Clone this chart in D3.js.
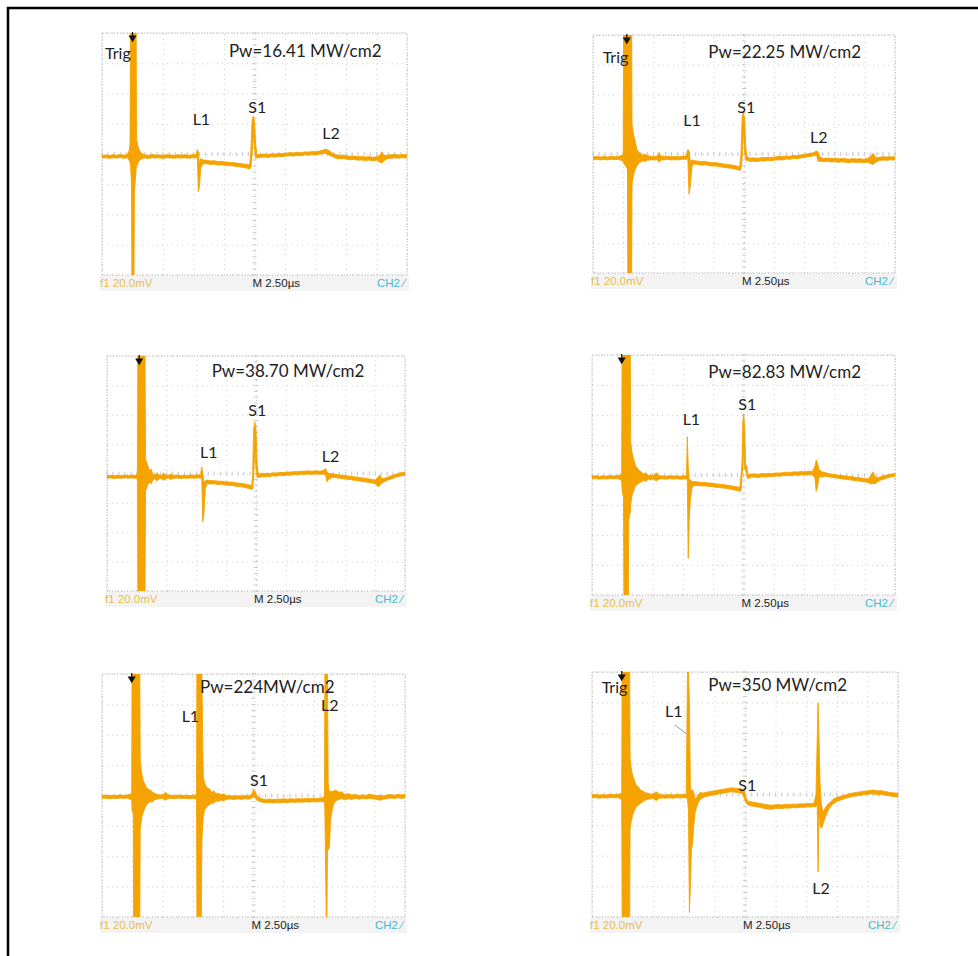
<!DOCTYPE html>
<meta charset="utf-8">
<style>
    body { margin: 0; background: #fff; }
    .grid line { stroke: #cfcfcf; stroke-dasharray: 1,4; }
    .grid path { display: none; }
    .minor { stroke: #c8c8c8; }
    .border { fill: none; stroke: #bdbdbd; stroke-dasharray: 1.5,1.5; }
    .trace { fill: #f5a300; stroke: #f5a300; stroke-width: 0.9; stroke-linejoin: round; }
    .lbl { font-family: Lato, "Open Sans", sans-serif; fill: #222; }
    .status { font-family: "Liberation Sans Narrow", "Liberation Sans", sans-serif; font-size: 11.5px; }
</style>
<body>
<script src="https://d3js.org/d3.v7.min.js"></script>
<script>

    var width = 978,
        height = 956;

    // scope settings: 10 div x 2.50 us, 8 div x 20.0 mV
    var timeDomain = [0, 25],
        voltDomain = [-80, 80];
    var timeDivs = d3.range(0, 25.01, 2.5),
        voltDivs = d3.range(-80, 80.01, 20);

    // traces: [time us, min mV, max mV]
    var trace1 = [[0,-2.6,-0.8],[0.3,-2.4,-0.6],[0.6,-2.9,-1.0],[0.9,-2.5,-0.5],[1.2,-2.7,-0.9],[1.5,-2.3,-0.4],[1.8,-2.8,-0.8],[2.1,-2.5,-0.4],
        [2.22,-4,2],[2.3,-6,6],[2.33,-6,80],[2.42,-20,80],[2.45,-80,80],[2.62,-80,80],[2.66,-25,80],[2.8,-10,80],[2.83,-8,10],[2.95,-6,5],[3.1,-4,2],[3.3,-3,0],
        [3.5,-2.6,-0.5],[3.8,-2.9,-0.9],[4.1,-2.4,-0.4],[4.4,-2.7,-0.7],[4.7,-2.5,-0.6],[5.0,-2.9,-0.9],[5.3,-2.4,-0.5],[5.6,-2.6,-0.6],[5.9,-2.8,-0.9],[6.2,-2.5,-0.5],[6.5,-2.7,-0.8],[6.8,-2.4,-0.5],[7.1,-2.8,-0.8],[7.4,-2.5,-0.5],[7.7,-2.6,-0.4],
        [7.82,-2,3],[7.9,-25,1],[7.98,-22,-6],[8.1,-9,-3],[8.3,-6.5,-4],
        [8.6,-6.4,-4.2],[8.9,-6.9,-4.6],[9.2,-6.7,-4.5],[9.5,-7.3,-5.0],[9.8,-7.1,-4.9],[10.1,-7.6,-5.3],[10.4,-7.8,-5.5],[10.7,-7.7,-5.6],[11.0,-8.3,-6.0],[11.3,-8.5,-6.3],[11.6,-8.9,-6.6],[11.9,-9.4,-7.0],[12.1,-10,-7.3],
        [12.2,-9,2],[12.3,-1,22],[12.4,14,25],[12.5,4,22],[12.6,-3,6],[12.7,-2.5,-0.5],
        [13.0,-2.2,-0.2],[13.3,-2.0,0],[13.6,-2.3,-0.3],[13.9,-1.8,0.1],[14.2,-2.0,0],[14.5,-1.6,0.4],[14.8,-1.8,0.3],[15.1,-1.3,0.6],[15.4,-1.1,0.9],[15.7,-1.4,0.7],[16.0,-0.9,1.1],[16.3,-1.2,0.8],[16.6,-0.5,1.4],[16.9,-0.8,1.2],[17.2,-0.4,1.6],[17.5,-0.6,1.5],[17.8,-0.1,2.0],[18.1,0.3,2.5],[18.3,0.5,3.2],[18.5,-0.5,2.8],[18.7,-1.0,1.8],[18.9,-1.8,0.5],
        [19.2,-2.9,-0.5],[19.5,-3.2,-1.0],[19.8,-3.0,-0.8],[20.1,-3.5,-1.3],[20.4,-3.8,-1.5],[20.7,-3.6,-1.4],[21.0,-4.1,-1.8],[21.3,-3.9,-1.7],[21.6,-4.3,-2.0],[21.9,-4.0,-1.8],[22.2,-4.5,-2.2],[22.5,-4.2,-1.9],[22.8,-5.5,-0.8],[22.95,-6,1.5],[23.1,-4.5,-1],[23.4,-3.0,-0.8],[23.7,-2.8,-0.5],[24.0,-2.5,-0.4],[24.3,-2.8,-0.7],[24.6,-2.4,-0.3],[25,-2.6,-0.6]];

    var trace2 = [[0,-3.8,-1.9],[0.3,-3.6,-1.6],[0.6,-4.0,-2.1],[0.9,-3.7,-1.7],[1.2,-3.9,-2.0],[1.5,-3.5,-1.6],[1.8,-3.8,-1.8],[2.1,-3.6,-1.7],[2.4,-4.5,-0.8],
        [2.5,-4.5,0],[2.53,-6,80],[2.85,-10,80],[2.88,-80,80],[3.2,-80,80],[3.23,-20,20],[3.36,-14,13],[3.5,-10,8],[3.64,-8,3],[3.8,-6,1],[3.95,-5.5,0.5],[4.1,-4.5,-0.8],[4.3,-5,0],[4.5,-4.2,-1.2],[4.7,-4.0,-1.5],[4.9,-3.8,-1.7],[5.1,-4.1,-1.6],[5.3,-3.7,-1.6],[5.45,-5.5,0.8],[5.6,-4.2,-1.2],[5.9,-3.9,-1.7],[6.2,-3.6,-1.5],[6.5,-4.0,-1.9],[6.8,-3.7,-1.6],[7.1,-3.9,-1.8],[7.4,-3.5,-1.5],[7.7,-3.6,-1.3],
        [7.85,-3,3],[7.95,-27,2],[8.05,-22,-5],[8.2,-8,-4],[8.4,-6.8,-4.5],
        [8.7,-7.0,-4.8],[9.0,-7.5,-5.1],[9.3,-7.2,-5.0],[9.6,-7.9,-5.6],[9.9,-8.1,-5.8],[10.2,-8.0,-5.9],[10.5,-8.6,-6.3],[10.8,-8.9,-6.7],[11.1,-9.3,-7.0],[11.4,-9.6,-7.3],[11.7,-10.1,-7.8],[12.0,-10.6,-8.2],[12.15,-11.2,-8.6],
        [12.25,-10,0],[12.35,-2,25],[12.45,16,28.5],[12.55,2,24],[12.65,-4,4],[12.75,-4.2,-1.8],
        [13.0,-5.0,-2.8],[13.3,-4.8,-2.6],[13.6,-5.1,-2.9],[13.9,-4.6,-2.5],[14.2,-4.7,-2.4],[14.5,-4.3,-2.2],[14.8,-4.5,-2.3],[15.1,-4.0,-1.9],[15.4,-3.8,-1.6],[15.7,-4.0,-1.8],[16.0,-3.4,-1.4],[16.3,-3.6,-1.5],[16.6,-3.0,-1.0],[16.9,-3.2,-1.1],[17.2,-2.7,-0.6],[17.5,-2.3,-0.3],[17.8,-1.8,0.2],[18.1,-1.5,0.5],[18.3,-1.2,1.0],[18.5,-0.8,2.0],[18.65,-5,1.2],
        [18.8,-4.8,-2.2],[19.1,-5.2,-3.0],[19.4,-4.9,-2.7],[19.7,-5.4,-3.1],[20.0,-5.1,-2.9],[20.3,-5.6,-3.3],[20.6,-5.2,-3.0],[20.9,-5.5,-3.2],[21.2,-5.8,-3.5],[21.5,-5.3,-3.1],[21.8,-5.7,-3.4],[22.1,-5.5,-3.2],[22.4,-5.9,-3.6],[22.7,-5.4,-3.1],[23.0,-6.5,-1.5],[23.2,-7,0.5],[23.4,-5.5,-2.5],[23.7,-4.4,-2.2],[24.0,-4.0,-1.9],[24.3,-4.3,-2.0],[24.6,-3.8,-1.8],[25,-4.1,-2.0]];

    var trace3 = [[0,-3.2,-1.4],[0.3,-3.0,-1.2],[0.6,-3.4,-1.5],[0.9,-3.1,-1.2],[1.2,-3.3,-1.5],[1.5,-2.9,-1.1],[1.8,-3.2,-1.4],[2.1,-3.0,-1.1],[2.4,-3.3,-1.3],[2.55,-4,0],
        [2.59,-80,80],[3.19,-80,80],[3.23,-12,10],[3.4,-8,6],[3.55,-6,2],[3.7,-7,3],[3.85,-4.5,-0.5],[4.0,-3.5,-1.2],[4.2,-5,0.5],[4.35,-3.8,-1.0],[4.55,-3.4,-1.3],[4.75,-4.6,0.3],[4.95,-3.5,-1.2],[5.15,-3.1,-1.3],[5.35,-4.0,-0.3],[5.55,-3.3,-1.2],[5.85,-3.0,-1.1],[6.15,-3.4,-1.4],[6.45,-3.1,-1.2],[6.75,-3.3,-1.3],[7.05,-3.0,-1.0],[7.35,-3.2,-1.2],[7.65,-3.0,-0.9],[7.85,-3.2,-0.8],
        [7.95,-3,4.5],[8.03,-33,1],[8.12,-28,-6],[8.25,-10,-5],[8.4,-7,-4.5],
        [8.7,-7.1,-4.8],[9.0,-7.0,-4.9],[9.3,-7.5,-5.2],[9.6,-7.4,-5.3],[9.9,-7.9,-5.6],[10.2,-8.1,-5.8],[10.5,-8.0,-5.9],[10.8,-8.6,-6.3],[11.1,-8.9,-6.6],[11.4,-9.2,-6.9],[11.7,-9.8,-7.4],[12.0,-10.3,-7.9],[12.15,-11,-8.2],
        [12.22,-10,0],[12.3,-3,30],[12.4,18,35],[12.5,3,30],[12.6,-3,5],[12.7,-2.5,-0.2],
        [13.0,-2.3,-0.2],[13.3,-2.0,0.1],[13.6,-2.2,-0.1],[13.9,-1.6,0.4],[14.2,-1.8,0.3],[14.5,-1.3,0.7],[14.8,-1.5,0.6],[15.1,-1.0,1.0],[15.4,-1.2,0.9],[15.7,-0.7,1.3],[16.0,-0.9,1.2],[16.3,-0.4,1.6],[16.6,-0.6,1.5],[16.9,-0.3,1.8],[17.2,-0.6,1.5],[17.5,-0.2,1.9],[17.8,-0.5,1.6],[18.1,-0.3,1.9],[18.35,-1,3.4],[18.45,-5.7,1.0],[18.6,-4,0],
        [18.9,-2.5,-0.2],[19.2,-2.8,-0.6],[19.5,-3.2,-1.0],[19.8,-3.5,-1.2],[20.1,-3.9,-1.6],[20.4,-4.1,-1.8],[20.7,-4.6,-2.2],[21.0,-4.8,-2.5],[21.3,-5.3,-2.9],[21.6,-5.6,-3.2],[21.9,-6.0,-3.6],[22.2,-6.4,-4.0],[22.5,-6.9,-4.4],[22.75,-9,-2.5],[22.9,-8,-1],[23.05,-6.5,-3.5],[23.3,-5.5,-3.2],[23.6,-4.4,-2.3],[23.9,-3.5,-1.4],[24.2,-2.6,-0.6],[24.5,-1.9,0.2],[24.8,-1.4,0.7],[25,-1.1,0.9]];

    var trace4 = [[0,-2.6,-0.7],[0.3,-2.4,-0.5],[0.6,-2.8,-0.9],[0.9,-2.5,-0.6],[1.2,-2.7,-0.8],[1.5,-2.3,-0.4],[1.8,-2.6,-0.7],[2.1,-2.4,-0.5],[2.35,-3.2,0.2],
        [2.45,-4,1],[2.48,-10,80],[2.6,-15,80],[2.63,-80,80],[3.0,-80,80],[3.03,-30,80],[3.16,-25,80],[3.19,-20,22],[3.3,-14,15],[3.45,-10,10],[3.6,-7,6],[3.8,-6,4],[3.95,-5,2.5],[4.1,-4.5,2],[4.25,-3.5,0.5],[4.45,-4.2,1.5],[4.65,-2.8,-0.5],[4.85,-3.2,0.2],[5.05,-2.7,-0.6],[5.3,-4,1.5],[5.5,-2.8,-0.5],[5.8,-2.5,-0.6],[6.1,-2.8,-0.8],[6.4,-2.4,-0.5],[6.7,-2.7,-0.7],[7.0,-2.5,-0.6],[7.3,-2.8,-0.8],[7.6,-2.5,-0.5],[7.8,-2.7,-0.5],
        [7.86,-3,25.5],[7.94,-55.5,5],[8.02,-30,-4],[8.12,-16,-3],[8.24,-9,-4.5],[8.4,-7,-4.3],
        [8.7,-7.0,-4.6],[9.0,-7.3,-5.0],[9.3,-7.1,-4.9],[9.6,-7.7,-5.4],[9.9,-7.6,-5.4],[10.2,-8.2,-5.9],[10.5,-8.3,-6.1],[10.8,-8.7,-6.4],[11.1,-9.0,-6.7],[11.4,-9.4,-7.1],[11.7,-9.9,-7.5],[12.0,-10.4,-8.0],[12.2,-11,-8.4],
        [12.3,-10,0],[12.38,0,8],[12.45,4,35],[12.52,20,40.7],[12.6,4,30],[12.68,3,7],[12.78,-1,6],[12.86,-2.5,0],
        [13.1,-1.5,0.6],[13.4,-1.3,0.7],[13.7,-1.6,0.5],[14.0,-1.2,0.9],[14.3,-1.4,0.8],[14.6,-0.9,1.1],[14.9,-1.1,1.0],[15.2,-0.6,1.4],[15.5,-0.8,1.3],[15.8,-0.4,1.6],[16.1,-0.2,1.9],[16.4,-0.5,1.7],[16.7,0.0,2.1],[17.0,-0.2,2.0],[17.3,0.2,2.3],[17.6,0.0,2.2],[17.9,0.3,2.5],[18.2,0.1,2.4],
        [18.4,-2,6],[18.5,-11,10],[18.6,-8,8],[18.72,-2,4],[18.85,-1,3],[19.0,-1.5,2],[19.2,-0.8,1.8],[19.5,-1.2,1.0],[19.8,-1.6,0.5],[20.1,-1.9,0.2],[20.4,-2.3,-0.1],[20.7,-2.6,-0.4],[21.0,-3.0,-0.8],[21.3,-3.2,-1.0],[21.6,-3.6,-1.4],[21.9,-3.9,-1.7],[22.2,-4.3,-2.0],[22.5,-4.6,-2.3],[22.8,-5.0,-2.6],[23.05,-6,0],[23.2,-5.5,2.2],[23.35,-6,-1],[23.55,-4.5,-1.8],[23.8,-3.5,-1.2],[24.1,-2.6,-0.4],[24.4,-1.9,0.1],[24.7,-1.2,0.6],[25,-1.0,0.9]];

    var trace5 = [[0,-1.9,0.1],[0.3,-1.7,0.3],[0.6,-2.1,-0.1],[0.9,-1.8,0.2],[1.2,-2.0,0.0],[1.5,-1.6,0.4],[1.8,-1.9,0.1],[2.1,-1.7,0.3],[2.35,-2.5,1.0],
        [2.45,-3,1.5],[2.48,-10,80],[2.58,-12,80],[2.61,-80,80],[3.12,-80,80],[3.15,-22,24],[3.27,-15,15],[3.4,-11,10],[3.55,-8,7],[3.7,-6,5],[3.85,-5,4],[4.0,-4,3.5],[4.15,-4.5,2.5],[4.3,-3,1.5],[4.45,-2.5,1],[4.65,-2.2,0.5],[4.85,-2,0.4],[5.05,-2.2,0.6],[5.25,-3.2,2.2],[5.45,-2.0,0.3],[5.7,-1.8,0.2],[6.0,-2.1,0.0],[6.3,-1.7,0.3],[6.6,-2.0,0.1],[6.9,-1.8,0.2],[7.2,-2.1,-0.1],[7.5,-1.8,0.2],[7.7,-2.0,0.3],
        [7.8,-3,1],[7.83,-80,80],[8.2,-80,80],[8.24,-30,80],[8.3,-20,39],[8.36,-14,12],[8.45,-10,9],[8.58,-8,6],[8.72,-7,5],[8.9,-6,4],[9.05,-5,2],[9.25,-5,3],[9.4,-3.5,1],[9.6,-4,1.5],[9.8,-3,0.5],[10.0,-3.5,1],[10.3,-2.5,0],[10.6,-2.3,-0.2],[10.9,-2.6,-0.3],[11.2,-2.2,-0.1],[11.5,-2.5,-0.4],[11.8,-2.1,0.0],[12.1,-2.4,-0.2],[12.35,-1.8,0.8],
        [12.5,-1,3.5],[12.62,-1.2,3.0],[12.75,-3,0.5],[12.9,-3.6,-1.2],[13.2,-4.4,-2.2],[13.5,-4.8,-2.6],[13.8,-4.5,-2.3],[14.1,-4.9,-2.7],[14.4,-4.6,-2.4],[14.7,-4.8,-2.5],[15.0,-4.4,-2.2],[15.3,-4.7,-2.5],[15.6,-4.3,-2.1],[15.9,-4.6,-2.4],[16.2,-4.2,-2.0],[16.5,-4.5,-2.3],[16.8,-4.1,-1.9],[17.1,-4.4,-2.2],[17.4,-4.0,-1.8],[17.7,-4.3,-2.1],[18.0,-3.9,-1.7],[18.25,-4.2,-1.5],
        [18.36,-4,0],[18.39,-10,80],[18.5,-80,80],[18.56,-80,80],[18.6,-36,80],[18.66,-36,8],[18.76,-34,2],[18.86,-16,3],[18.98,-10,2.5],[19.1,-6,3],[19.25,-4,3.5],[19.4,-3,3],[19.6,-2.5,2],[19.8,-2,2.5],[20.0,-2.8,0.5],[20.3,-2.2,1.2],[20.6,-2.6,0.3],[20.9,-1.9,0.6],[21.2,-2.4,0.0],[21.5,-2.0,0.4],[21.8,-2.3,0.1],[22.1,-1.8,0.8],[22.4,-2.2,0.2],[22.7,-2.6,-0.2],[22.95,-3.2,0.2],[23.2,-2.4,-0.3],[23.5,-2.1,0.3],[23.8,-1.6,0.6],[24.1,-2.0,0.1],[24.4,-1.5,0.7],[24.7,-1.8,0.4],[25,-1.6,0.6]];

    var trace6 = [[0,-2.2,-0.2],[0.3,-2.0,0.0],[0.6,-2.4,-0.4],[0.9,-2.1,-0.1],[1.2,-2.3,-0.3],[1.5,-1.9,0.1],[1.8,-2.2,-0.2],[2.1,-2.0,0.0],[2.35,-2.8,0.6],
        [2.43,-4,1],[2.46,-80,80],[3.08,-80,80],[3.11,-22,24],[3.22,-17,16],[3.34,-13,12],[3.48,-10,9],[3.62,-8,6],[3.78,-7,5],[3.94,-6,3],[4.1,-5,2.5],[4.28,-4,1.5],[4.45,-3.5,1],[4.65,-3,0.5],[4.85,-2.6,0.2],[5.05,-2.8,0.6],[5.25,-4,1.8],[5.45,-2.6,0.2],[5.7,-2.2,-0.1],[6.0,-2.5,-0.4],[6.3,-2.1,0.0],[6.6,-2.4,-0.3],[6.9,-2.0,0.0],[7.2,-2.3,-0.2],[7.5,-2.0,0.1],[7.7,-2.2,0.0],
        [7.8,-3,80],[7.88,-10,80],[7.96,-77,60],[8.04,-60,5],[8.12,-36,2],[8.22,-32,3],[8.32,-20,1],[8.42,-12,-3],[8.55,-8,-2],[8.7,-5,0],[8.85,-3,1.5],[9.0,-2.5,0.8],[9.2,-1.5,1.2],[9.4,-1.2,1.5],[9.6,-0.8,1.9],[9.9,-0.3,2.3],[10.2,0.2,2.7],[10.5,0.6,3.1],[10.8,1.0,3.5],[11.1,1.5,4.0],[11.4,1.8,4.3],[11.7,1.5,4.1],[12.0,1.2,3.8],[12.25,0.8,3.5],
        [12.4,-1.5,3],[12.55,-5,-1],[12.7,-6.5,-4],[12.85,-7.2,-4.6],[13.1,-7.5,-4.9],[13.4,-8.0,-5.4],[13.7,-8.4,-5.8],[14.0,-8.9,-6.3],[14.3,-9.4,-6.7],[14.6,-9.7,-7.0],[14.9,-9.3,-6.8],[15.2,-9.0,-6.6],[15.5,-9.2,-6.9],[15.8,-8.8,-6.5],[16.1,-8.9,-6.6],[16.4,-8.5,-6.3],[16.7,-8.7,-6.4],[17.0,-8.3,-6.1],[17.3,-8.4,-6.2],[17.6,-8.0,-5.8],[17.9,-8.2,-6.0],[18.15,-7.8,-5.5],
        [18.3,-8,0],[18.4,-6,36],[18.47,-50.5,60],[18.55,-8,36],[18.63,-20,8],[18.72,-22,-5],[18.82,-21,-10],[18.92,-18,-11],[19.05,-15,-9],[19.2,-12,-7],[19.4,-9,-5.5],[19.6,-7,-4],[19.8,-5.5,-2.5],[20.0,-4.5,-2.0],[20.3,-3.6,-1.2],[20.6,-2.8,-0.5],[20.9,-2.0,0.2],[21.2,-1.5,0.8],[21.5,-1.0,1.2],[21.8,-0.6,1.6],[22.1,-0.3,1.9],[22.4,0.0,2.3],[22.7,0.3,2.6],[23.0,0.5,2.9],[23.3,-0.2,2.3],[23.6,0.2,2.6],[23.9,-0.4,2.0],[24.2,-0.6,1.6],[24.5,-1.2,1.2],[24.8,-1.5,0.9],[25,-1.7,0.7]];

    var traces = [trace1, trace2, trace3, trace4, trace5, trace6];

    var powerLabels = ["Pw=16.41 MW/cm2", "Pw=22.25 MW/cm2", "Pw=38.70 MW/cm2",
                       "Pw=82.83 MW/cm2", "Pw=224MW/cm2", "Pw=350 MW/cm2"];
    // [time us, mV] where each power label starts
    var powerAt = [[10.4, 64], [9.55, 64.3], [8.78, 65.9], [9.6, 64.9], [8.09, 67.3], [9.5, 67.8]];

    // trigger marker time per shot
    var trigTimes = [2.5, 2.8, 2.7, 2.45, 2.45, 2.43];

    // peak names: [text, time us, mV]
    var peakLabels = [
        [["Trig", 0.25, 62.6], ["L1", 7.43, 19.2], ["S1", 11.99, 26.9], ["L2", 18.06, 9.7]],
        [["Trig", 0.8, 61.4], ["L1", 7.48, 18.8], ["S1", 11.95, 27.4], ["L2", 17.96, 7.2]],
        [["L1", 7.8, 10.3], ["S1", 11.85, 39.1], ["L2", 18.01, 8.0]],
        [["L1", 7.48, 33.3], ["S1", 12.07, 43.3]],
        [["L1", 6.57, 48.6], ["S1", 12.21, 6.3], ["L2", 18.07, 55.5]],
        [["Trig", 0.79, 66.1], ["L1", 5.97, 50.8], ["S1", 11.95, 2.5], ["L2", 17.99, -64.9]]
    ];
    // pointer from the L1 name to the spike in the last shot
    var pointer6 = [[6.78, 45.4], [7.73, 39.5]];

    var statusLeft = "f1  20.0mV",
        statusMid = "M 2.50\u00b5s",
        statusRight = "CH2 \u2215";

    // screen placement of the six graticules
    var panels = [
        {x: 102, y: 33, w: 305, h: 242},
        {x: 593, y: 35, w: 302, h: 238},
        {x: 107, y: 356, w: 298, h: 235},
        {x: 592, y: 355, w: 303, h: 240},
        {x: 102, y: 674, w: 303, h: 243},
        {x: 592, y: 672, w: 306, h: 245}
    ];

    var svg = d3.select("body").append("svg")
        .attr("width", width)
        .attr("height", height);

    // page frame (cropped on the right and bottom)
    svg.append("path")
        .attr("d", "M8,956V8H978")
        .attr("fill", "none")
        .attr("stroke", "#000")
        .attr("stroke-width", 2.5);

    var defs = svg.append("defs");

    panels.forEach(function(p, i) {
        var x = d3.scaleLinear().domain(timeDomain).range([0, p.w]);
        var y = d3.scaleLinear().domain(voltDomain).range([p.h, 0]);

        var g = svg.append("g").attr("transform", "translate(" + p.x + "," + p.y + ")");

        // status bar under the screen
        g.append("rect")
            .attr("x", -2).attr("y", p.h + 1)
            .attr("width", p.w + 4).attr("height", 15)
            .attr("fill", "#f3f3f3");

        // graticule
        g.append("g").attr("class", "grid")
            .attr("transform", "translate(0," + p.h + ")")
            .call(d3.axisBottom(x).tickValues(timeDivs).tickSize(-p.h).tickFormat(""));
        g.append("g").attr("class", "grid")
            .call(d3.axisLeft(y).tickValues(voltDivs).tickSize(-p.w).tickFormat(""));

        g.append("g").selectAll("line")
            .data(d3.range(0, 25.01, 0.5))
            .enter().append("line").attr("class", "minor")
            .attr("x1", function(d) { return x(d); }).attr("x2", function(d) { return x(d); })
            .attr("y1", y(0) - 2).attr("y2", y(0) + 2);
        g.append("g").selectAll("line")
            .data(d3.range(-80, 80.01, 4))
            .enter().append("line").attr("class", "minor")
            .attr("y1", function(d) { return y(d); }).attr("y2", function(d) { return y(d); })
            .attr("x1", x(12.5) - 2).attr("x2", x(12.5) + 2);

        g.append("rect").attr("class", "border")
            .attr("width", p.w).attr("height", p.h);

        // trace
        defs.append("clipPath").attr("id", "clip" + i)
            .append("rect").attr("width", p.w).attr("height", p.h);

        var area = d3.area()
            .x(function(d) { return x(d[0]); })
            .y0(function(d) { return y(d[1]); })
            .y1(function(d) { return y(d[2]); });

        g.append("path")
            .datum(traces[i])
            .attr("class", "trace")
            .attr("clip-path", "url(#clip" + i + ")")
            .attr("d", area);

        // trigger arrow
        var tx = x(trigTimes[i]);
        g.append("path")
            .attr("d", "M" + tx + ",-1V4M" + (tx - 3) + ",3L" + (tx + 3) + ",3L" + tx + ",8Z")
            .attr("stroke", "#111").attr("stroke-width", 1.2).attr("fill", "#111");

        // labels
        g.append("text").attr("class", "lbl")
            .attr("x", x(powerAt[i][0])).attr("y", y(powerAt[i][1]))
            .style("font-size", "17px")
            .text(powerLabels[i]);

        g.selectAll(".peak")
            .data(peakLabels[i])
            .enter().append("text").attr("class", "lbl peak")
            .attr("x", function(d) { return x(d[1]); })
            .attr("y", function(d) { return y(d[2]); })
            .style("font-size", "16px")
            .text(function(d) { return d[0]; });

        if (i === 5) {
            g.append("line")
                .attr("x1", x(pointer6[0][0])).attr("y1", y(pointer6[0][1]))
                .attr("x2", x(pointer6[1][0])).attr("y2", y(pointer6[1][1]))
                .attr("stroke", "#9a9a9a").attr("stroke-width", 1);
        }

        // status text
        g.append("text").attr("class", "status")
            .attr("x", -2).attr("y", p.h + 12)
            .attr("fill", "#e9bd4c")
            .text(statusLeft);
        g.append("text").attr("class", "status")
            .attr("x", p.w / 2 - 2).attr("y", p.h + 12)
            .attr("fill", "#222")
            .text(statusMid);
        g.append("text").attr("class", "status")
            .attr("x", p.w - 2).attr("y", p.h + 12)
            .attr("text-anchor", "end")
            .attr("fill", "#4bb8c8")
            .text(statusRight);
    });

</script>
